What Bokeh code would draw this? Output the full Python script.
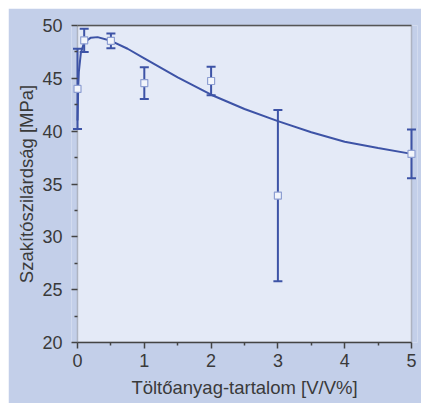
from bokeh.plotting import figure
from bokeh.embed import file_html
from bokeh.resources import INLINE
from bokeh.models import (FixedTicker, Range1d, Whisker, TeeHead, ColumnDataSource,
                          BoxAnnotation, LinearAxis)

# measured points
x_pts = [0, 0.1, 0.5, 1, 2, 3, 5]
y_pts = [44.0, 48.6, 48.55, 44.55, 44.75, 33.9, 37.85]
err = [3.8, 1.1, 0.7, 1.5, 1.35, 8.1, 2.3]

# fitted curve
x_fit = [0, 0.01, 0.02, 0.05, 0.1, 0.2, 0.3, 0.5, 0.75, 1, 1.5, 2, 2.5, 3, 3.5, 4, 4.5, 5]
y_fit = [41.0, 44.0, 45.6, 47.4, 48.4, 48.85, 48.9, 48.55, 47.8, 46.9, 45.1, 43.45, 42.1, 40.95, 39.9, 39.0, 38.4, 37.85]

x_ticks = [0, 1, 2, 3, 4, 5]
x_minor = [0.5, 1.5, 2.5, 3.5, 4.5]
y_ticks = [20, 25, 30, 35, 40, 45, 50]
y_minor = [22.5, 27.5, 32.5, 37.5, 42.5, 47.5]
X_MIN, X_MAX, Y_MIN, Y_MAX = 0, 5, 20, 50
PAD = 0.09  # small padding so markers on the edges are not clipped
x_title = "Töltőanyag-tartalom [V/V%]"
y_title = "Szakítószilárdság [MPa]"

BLUE = "#3d53a6"
OUTER = "#c3cfe9"
INNER = "#e4eaf7"
TXT = "#3a3a3a"
AX = "#444444"

p = figure(width=413, height=395, output_backend="svg", toolbar_location=None,
           x_range=Range1d(X_MIN - PAD, X_MAX + PAD), y_range=Range1d(Y_MIN, Y_MAX),
           min_border_left=63, min_border_right=4, min_border_top=17, min_border_bottom=61)
p.margin = (8, 0, 0, 8)
p.background_fill_color = OUTER
p.border_fill_color = OUTER
p.outline_line_color = None
p.grid.visible = False

# inner plot area with its frame
p.add_layout(BoxAnnotation(left=X_MIN, right=X_MAX, bottom=Y_MIN, top=Y_MAX,
                           fill_color=INNER, fill_alpha=1, line_color="#555555",
                           line_width=1.5, level="underlay"))

p.line(x_fit, y_fit, line_color=BLUE, line_width=2)

lo = [y - e for y, e in zip(y_pts, err)]
hi = [y + e for y, e in zip(y_pts, err)]
src = ColumnDataSource(dict(x=x_pts, y=y_pts, lo=lo, hi=hi))
w = Whisker(source=src, base="x", lower="lo", upper="hi", dimension="height",
            line_color=BLUE, line_width=2,
            lower_head=TeeHead(size=9, line_color=BLUE, line_width=2),
            upper_head=TeeHead(size=9, line_color=BLUE, line_width=2))
p.add_layout(w)
p.scatter("x", "y", source=src, marker="square", size=7, fill_color="#f2f5fb",
          line_color="#8e9fd2", line_width=1.2)

for ax in (p.xaxis[0], p.yaxis[0]):
    ax.axis_line_color = AX
    ax.axis_line_width = 1.5
    ax.major_tick_line_color = AX
    ax.minor_tick_line_color = AX
    ax.major_tick_line_width = 1.5
    ax.minor_tick_line_width = 1.5
    ax.major_label_text_font = "Liberation Sans"
    ax.major_label_text_font_size = "18px"
    ax.major_label_text_color = TXT
    ax.axis_label_text_font = "Liberation Sans"
    ax.axis_label_text_font_size = "18.5px"
    ax.axis_label_text_font_style = "normal"
    ax.axis_label_text_color = TXT

xa = p.xaxis[0]
xa.bounds = (X_MIN, X_MAX)
xa.ticker = FixedTicker(ticks=x_ticks, minor_ticks=x_minor)
xa.major_tick_in = 0
xa.major_tick_out = 6
xa.minor_tick_in = 0
xa.minor_tick_out = 3
xa.major_label_standoff = 5
xa.axis_label = x_title
xa.axis_label_standoff = 7

ya = p.yaxis[0]
ya.axis_line_color = None
ya.ticker = FixedTicker(ticks=y_ticks, minor_ticks=y_minor)
ya.major_tick_in = 6
ya.major_tick_out = 0
ya.minor_tick_in = 6
ya.minor_tick_out = -3
ya.axis_label = y_title
ya.axis_label_standoff = 2
ya.major_label_standoff = 9

# top border line
top = LinearAxis(bounds=(X_MIN, X_MAX), ticker=FixedTicker(ticks=[]),
                 major_label_text_font_size="0px", axis_line_color="#555555",
                 axis_line_width=1.5, major_tick_out=0, minor_tick_out=0)
p.add_layout(top, "above")

open("out.html", "w").write(file_html(p, INLINE))
